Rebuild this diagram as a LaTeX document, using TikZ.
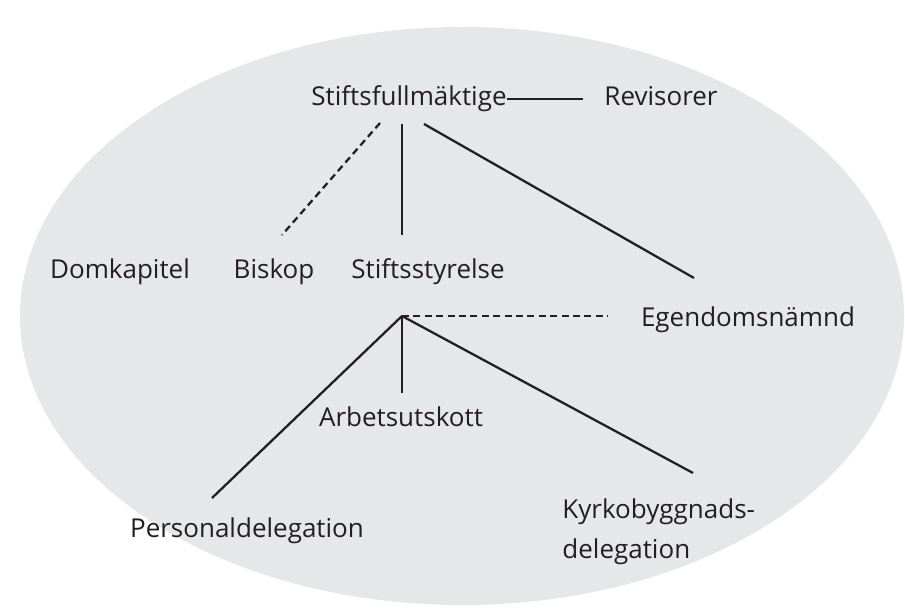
\documentclass[tikz,border=0pt]{standalone}
\usepackage{fontspec}
\setmainfont{Open Sans}
\definecolor{ovalgray}{HTML}{E6E7E8}
\definecolor{inkgray}{HTML}{231F20}
\begin{document}
\begin{tikzpicture}[x=0.5pt,y=-0.5pt,
    unit/.style={text=inkgray,inner sep=0pt,anchor=base,
      font=\fontsize{13}{20}\selectfont},
    solidlink/.style={draw=inkgray,line width=0.04cm},
    dashlink/.style={solidlink,dash pattern=on 3.5pt off 2.2pt}]
    \clip (0,0) rectangle (905,613);
    {
    % Drawing the oval behind the chart
    \fill [ovalgray] (462,316) ellipse [x radius=221pt,y radius=144.5pt];%

    % Placing the units
    \node [unit] (sfm) at (409,106) {Stiftsfullmäktige};%
    \node [unit] (rev) at (661,106) {Revisorer};%
    \node [unit] (dom) at (120,279) {Domkapitel};%
    \node [unit] (bis) at (274,279) {Biskop};%
    \node [unit] (sty) at (428,279) {Stiftsstyrelse};%
    \node [unit] (egd) at (748,327) {Egendomsnämnd};%
    \node [unit] (arb) at (401,427) {Arbetsutskott};%
    \node [unit] (per) at (247,538) {Personaldelegation};%
    \node [unit,anchor=base west,align=left] (kyr) at (562,559) {Kyrkobyggnads-\\delegation};%

    % Marking the free ends of the links
    \coordinate (sfmA) at (380,123);%
    \coordinate (sfmB) at (402,124);%
    \coordinate (sfmC) at (424,124);%
    \coordinate (domT) at (282,235);%
    \coordinate (styT) at (402,235);%
    \coordinate (egdW) at (694,278);%
    \coordinate (hub) at (402,316);%
    \coordinate (hubE) at (608,316);%
    \coordinate (arbT) at (402,393);%
    \coordinate (perT) at (212,498);%
    \coordinate (kyrT) at (693,473);%

    % Drawing link Stiftsfullmäktige Revisorer
    \draw [solidlink,shorten >=10.5pt] (sfm.east) -- (sfm.east -| rev.west);%

    % Drawing links below Stiftsfullmäktige
    \draw [dashlink] (sfmA) -- (domT);%
    \draw [solidlink] (sfmB) -- (styT);%
    \draw [solidlink] (sfmC) -- (egdW);%

    % Drawing links below Stiftsstyrelse
    \draw [dashlink] (hub) -- (hubE);%
    \draw [solidlink] (hub) -- (arbT);%
    \draw [solidlink] (hub) -- (perT);%
    \draw [solidlink] (hub) -- (kyrT);%
    }
\end{tikzpicture}
\end{document}
